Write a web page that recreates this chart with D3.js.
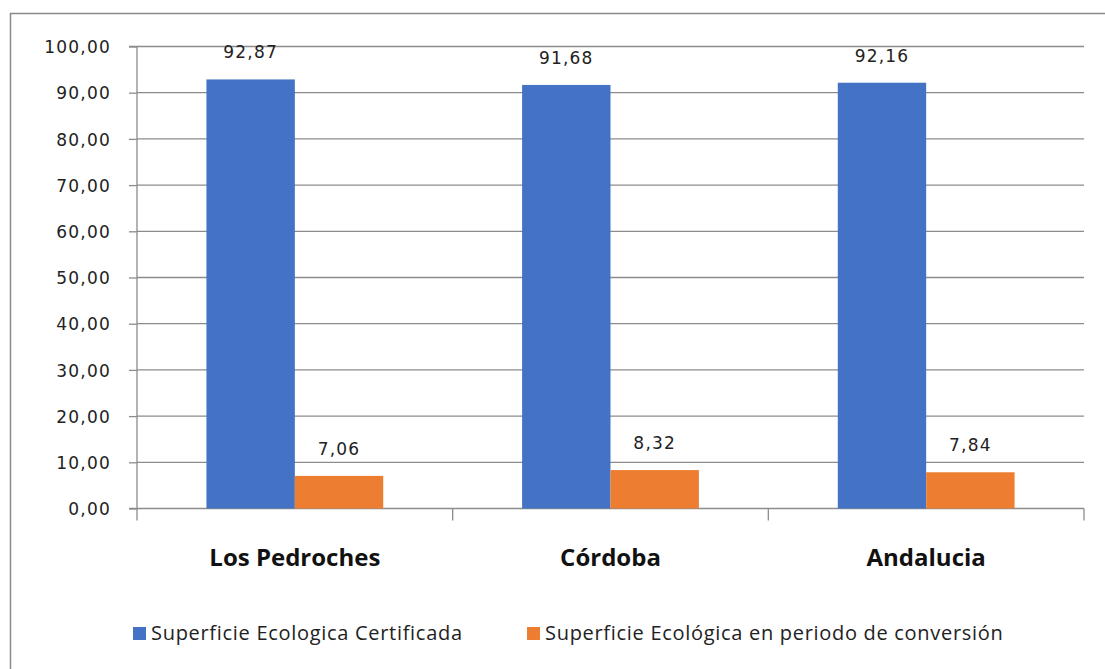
<!DOCTYPE html>
<html><head><meta charset="utf-8">
<script src="https://cdn.jsdelivr.net/npm/d3@7"></script>
<style>body{margin:0;background:#fff}svg{display:block}</style>
</head><body>
<svg id="c" width="1105" height="669"></svg>
<script>
const categories = ["Los Pedroches", "Córdoba", "Andalucia"];
const seriesNames = ["Superficie Ecologica Certificada", "Superficie Ecológica en periodo de conversión"];
const certificada = [92.87, 91.68, 92.16];
const conversion = [7.06, 8.32, 7.84];
const yTicks = [0, 10, 20, 30, 40, 50, 60, 70, 80, 90, 100];
const colors = ["#4472C4", "#ED7D31"];

const svg = d3.select("#c");
const fmt = v => d3.format(".2f")(v).replace(".", ",");

// outer frame
svg.append("rect").attr("x", 10.5).attr("y", 13.5).attr("width", 1110).attr("height", 700)
  .attr("fill", "none").attr("stroke", "#8a8a8a").attr("stroke-width", 1.5);

const x0 = 137, x1 = 1084, yTop = 46.5, yBot = 508.5;
const x = d3.scaleBand().domain(categories).range([x0, x1]).paddingInner(0).paddingOuter(0);
const y = d3.scaleLinear().domain([0, 100]).range([yBot, yTop]);
const barW = x.bandwidth() * 0.28;

// gridlines
svg.append("g").selectAll("line").data(yTicks.filter(t => t > 0)).join("line")
  .attr("x1", x0).attr("x2", x1).attr("y1", d => y(d)).attr("y2", d => y(d))
  .attr("stroke", "#8c8c8c").attr("stroke-width", 1.3);

// y axis
const ya = svg.append("g").attr("transform", `translate(${x0},0)`)
  .call(d3.axisLeft(y).tickValues(yTicks).tickSize(8).tickPadding(18).tickFormat(fmt));
ya.select(".domain").attr("stroke", "#8c8c8c").attr("stroke-width", 1.3).attr("d", `M-8,${yTop}H0V${yBot}H-8`);
ya.selectAll(".tick line").attr("stroke", "#8c8c8c").attr("stroke-width", 1.3);
ya.selectAll(".tick text").attr("font-family", "DejaVu Sans").attr("font-size", 17)
  .attr("letter-spacing", "1.2px").attr("fill", "#222").attr("dy", "0.36em");

// x axis
const bounds = categories.map(c => x(c)).concat([x1]);
svg.append("line").attr("x1", x0).attr("x2", x1).attr("y1", yBot).attr("y2", yBot)
  .attr("stroke", "#8c8c8c").attr("stroke-width", 1.3);
svg.append("g").selectAll("line").data(bounds).join("line")
  .attr("x1", d => d).attr("x2", d => d).attr("y1", yBot).attr("y2", yBot + 12)
  .attr("stroke", "#8c8c8c").attr("stroke-width", 1.3);
svg.append("g").selectAll("text").data(categories).join("text")
  .attr("x", d => x(d) + x.bandwidth() / 2).attr("y", 566)
  .attr("text-anchor", "middle").attr("font-family", "Open Sans").attr("font-weight", "bold")
  .attr("font-size", 24).attr("fill", "#111").text(d => d);

// bars
const series = [certificada, conversion];
series.forEach((vals, s) => {
  const g = svg.append("g");
  g.selectAll("rect").data(vals).join("rect")
    .attr("x", (d, i) => x(categories[i]) + x.bandwidth() / 2 + (s - 1) * barW)
    .attr("y", d => y(d)).attr("width", barW).attr("height", d => yBot - y(d))
    .attr("fill", colors[s]);
  g.selectAll("text").data(vals).join("text")
    .attr("x", (d, i) => x(categories[i]) + x.bandwidth() / 2 + (s - 0.5) * barW)
    .attr("y", d => y(d) - 21).attr("text-anchor", "middle")
    .attr("font-family", "DejaVu Sans").attr("font-size", 17).attr("letter-spacing", "1.2px")
    .attr("fill", "#222").text(d => fmt(d));
});

// legend
const legX = [133, 527];
seriesNames.forEach((n, s) => {
  svg.append("rect").attr("x", legX[s]).attr("y", 627).attr("width", 13).attr("height", 13).attr("fill", colors[s]);
  svg.append("text").attr("x", legX[s] + 18).attr("y", 640).attr("font-family", "Open Sans")
    .attr("font-size", 20).attr("letter-spacing", "0.7px").attr("fill", "#222").text(n);
});
</script>
</body></html>
